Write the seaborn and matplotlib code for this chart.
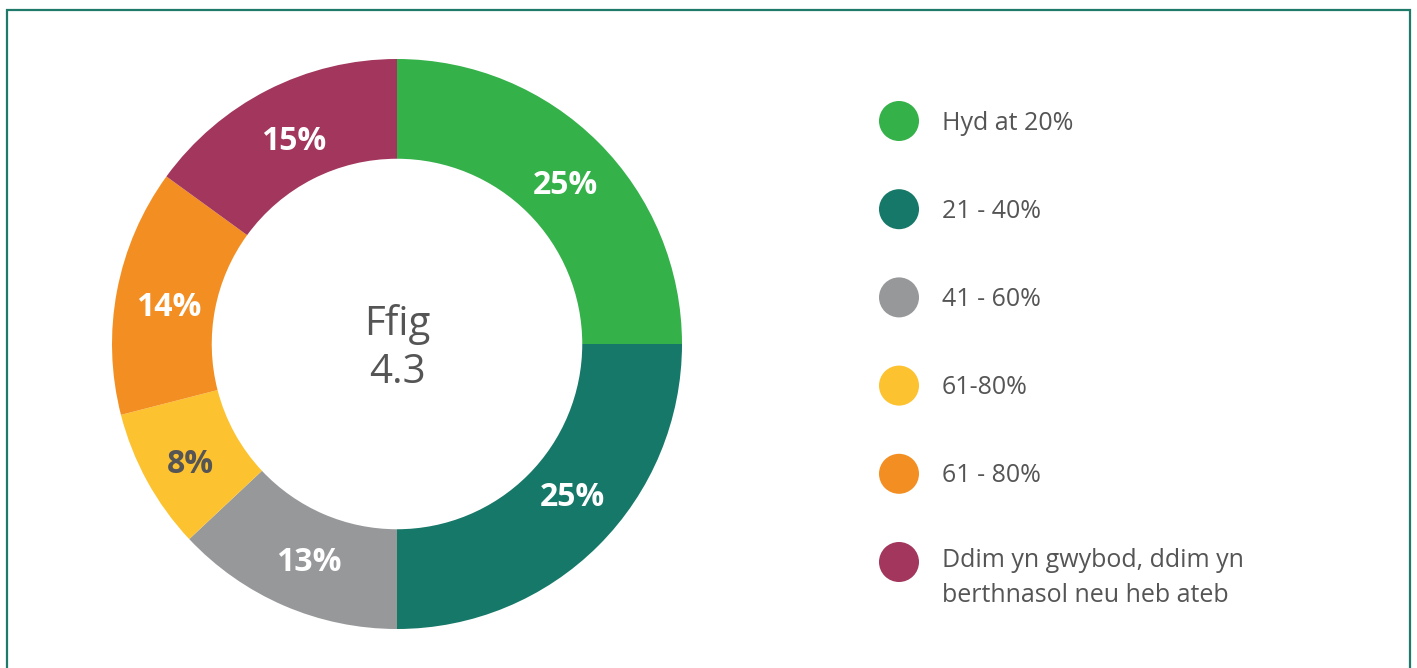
import matplotlib
matplotlib.use("Agg")
import matplotlib.pyplot as plt
import seaborn as sns
import numpy as np
from matplotlib.patches import Rectangle

categories = ["Hyd at 20%", "21 - 40%", "41 - 60%", "61-80%", "61 - 80%",
              "Ddim yn gwybod, ddim yn\nberthnasol neu heb ateb"]
values = [25, 25, 13, 8, 14, 15]
labels = ["25%", "25%", "13%", "8%", "14%", "15%"]
colors = ["#35b14a", "#167868", "#97989a", "#fcc22f", "#f38f22", "#a2365c"]
label_colors = ["white", "white", "white", "#555555", "white", "white"]
center_text = "Ffig\n4.3"

# layout tweaks (pixels) for label placement
label_nudge = [(3, 7), (10, -12), (5, 4), (-2, 8), (1, 7), (3, 6)]

sns.set_theme(style="white")
plt.rcParams['font.family'] = ['Open Sans', 'DejaVu Sans']
palette = sns.color_palette(colors)

W, H = 1417, 668
fig = plt.figure(figsize=(W / 100, H / 100), dpi=100)
fig.patch.set_facecolor("white")

# border
fig.patches.append(Rectangle((7 / W, -0.05), (1410 - 7) / W, 1.05 - 10 / H,
                             transform=fig.transFigure, fill=False,
                             edgecolor="#1f7a6a", linewidth=1.6))

# donut
cx, cy, R = 397, 344, 285
ax = fig.add_axes([(cx - R) / W, (H - cy - R) / H, 2 * R / W, 2 * R / H])
wedges, _ = ax.pie(values, colors=palette, startangle=90, counterclock=False,
                   radius=1.0, wedgeprops=dict(width=0.35, linewidth=0))
ax.set_aspect("equal")
ax.set_xlim(-1, 1)
ax.set_ylim(-1, 1)
ax.axis("off")

rl = 1.0 - 0.35 / 2 - 0.005
for w, lab, lc, (nx, ny) in zip(wedges, labels, label_colors, label_nudge):
    ang = np.deg2rad((w.theta1 + w.theta2) / 2)
    ax.text(rl * np.cos(ang) + nx / R, rl * np.sin(ang) - ny / R, lab,
            ha="center", va="center", fontsize=23, fontweight="bold", color=lc)

ax.text(0, -0.015, center_text, ha="center", va="center", fontsize=29,
        color="#555555", linespacing=1.25)

# legend
lax = fig.add_axes([0, 0, 1, 1])
lax.set_xlim(0, W)
lax.set_ylim(H, 0)
lax.axis("off")
ys = [121 + i * 88.2 for i in range(len(categories))]
sns.scatterplot(x=[899] * len(categories), y=ys, hue=categories, palette=palette,
                s=830, linewidth=0, legend=False, ax=lax)
for y, cat in zip(ys, categories):
    if "\n" in cat:
        lax.text(942, y - 14, cat, ha="left", va="top", fontsize=18,
                 color="#555555", linespacing=1.5)
    else:
        lax.text(942, y + 2, cat, ha="left", va="center", fontsize=18, color="#555555")
lax.set_xlim(0, W)
lax.set_ylim(H, 0)

fig.savefig("out.png", dpi=100, facecolor="white")
